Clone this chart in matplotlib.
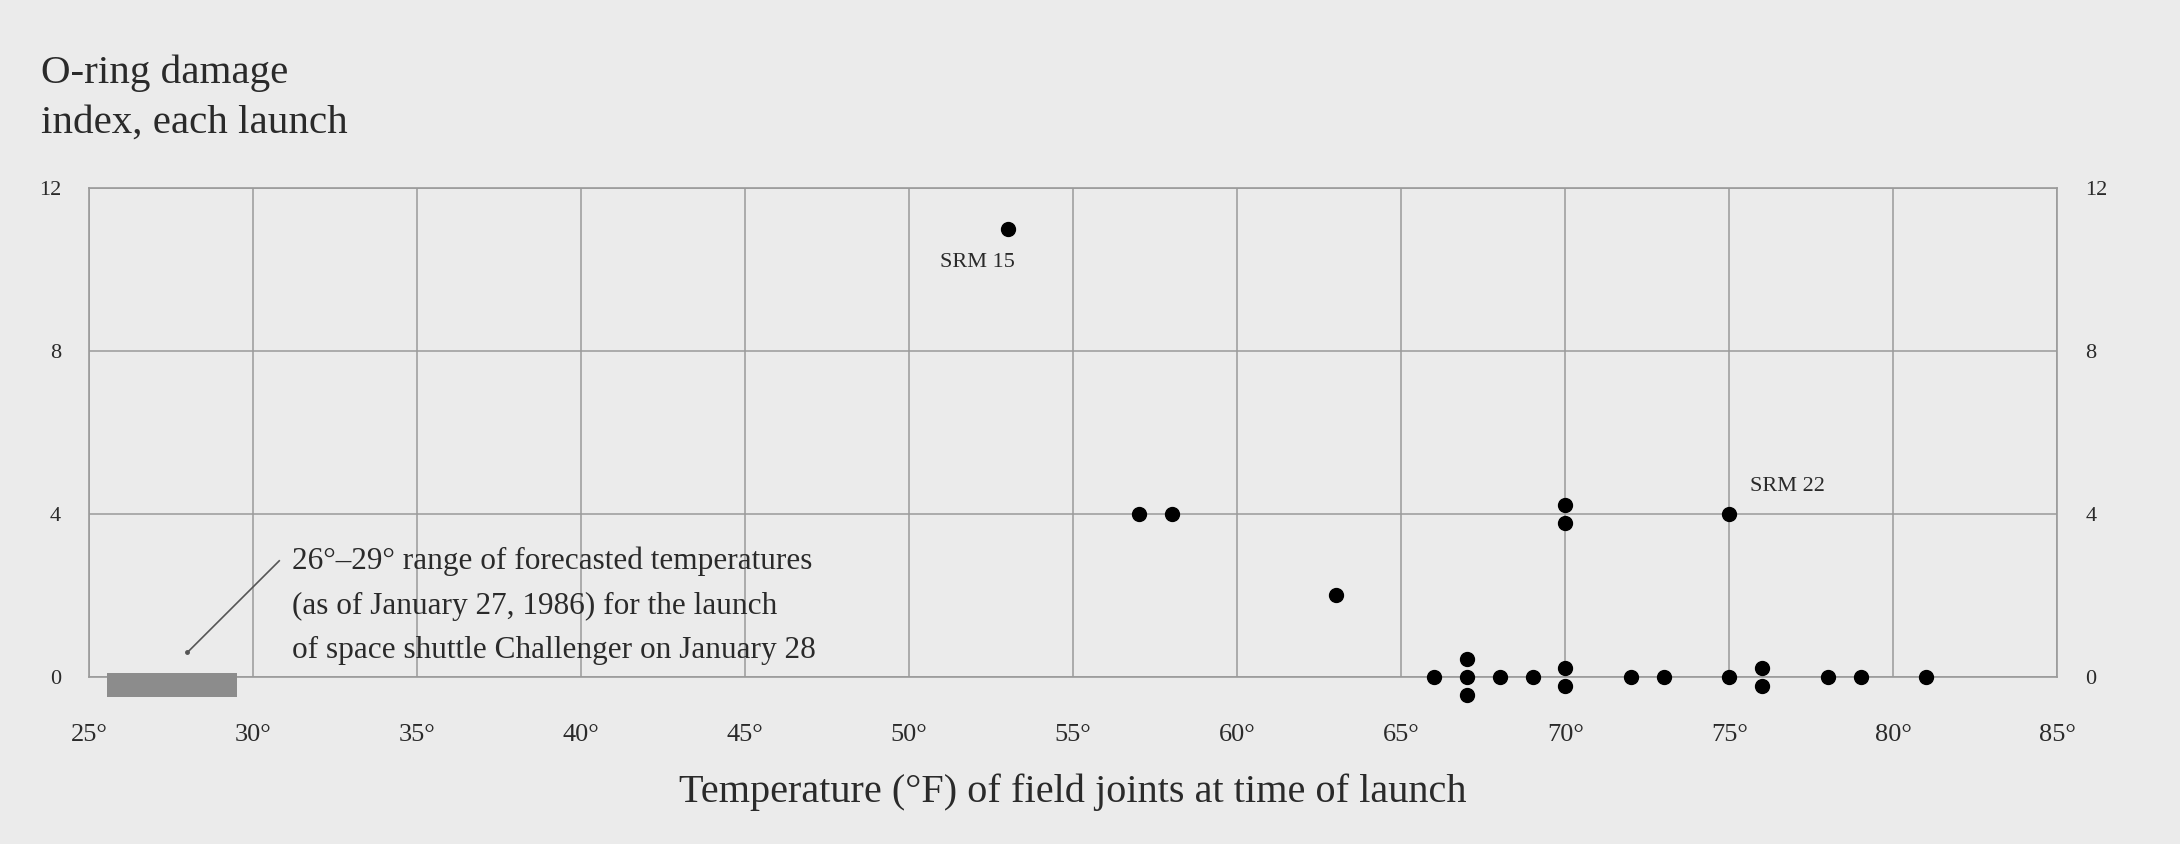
import matplotlib
matplotlib.use("Agg")
import matplotlib.pyplot as plt
from collections import defaultdict

# launches: joint temperature (F) and O-ring damage index
temps = [53, 57, 58, 63, 70, 70, 75,
         66, 67, 67, 67, 68, 69, 70, 70, 72, 73, 75, 76, 76, 78, 79, 81]
damage = [11, 4, 4, 2, 4, 4, 4,
          0, 0, 0, 0, 0, 0, 0, 0, 0, 0, 0, 0, 0, 0, 0, 0]

forecast_range = [26, 29]
x_ticks = [25, 30, 35, 40, 45, 50, 55, 60, 65, 70, 75, 80, 85]
y_ticks = [0, 4, 8, 12]

labels = {"SRM 15": (53, 11), "SRM 22": (75, 4)}

plt.rcParams['font.family'] = ['Liberation Serif', 'DejaVu Serif']
bg = '#ebebeb'
ink = '#2a2a2a'

fig = plt.figure(figsize=(21.8, 8.44), dpi=100, facecolor=bg)
ax = fig.add_axes([0.0408, 0.198, 0.903, 0.579])
ax.set_facecolor(bg)

# stack repeated readings vertically around their value
groups = defaultdict(list)
for t, d in zip(temps, damage):
    groups[(t, d)].append(t)
xs, ys = [], []
step = 0.45
for (t, d), items in groups.items():
    n = len(items)
    for i in range(n):
        xs.append(t)
        ys.append(d + (i - (n - 1) / 2) * step)

ax.plot(xs, ys, 'o', color='black', markersize=10, clip_on=False, zorder=5)

# forecast range bar
lo, hi = forecast_range
ax.fill_between([lo - 0.45, hi + 0.5], -0.5, 0.1, color='#8c8c8c', clip_on=False, zorder=4, linewidth=0)

ax.plot([28.0, 30.8], [0.6, 2.85], color='#555555', linewidth=1.2, clip_on=False)
ax.plot([28.0], [0.6], 'o', color='#555555', markersize=2.5)
ax.text(31.2, 3.2, "26°–29° range of forecasted temperatures\n(as of January 27, 1986) for the launch\nof space shuttle Challenger on January 28",
        fontsize=22.5, color=ink, va='top', ha='left', linespacing=1.7,
        transform=ax.transData)

ax.annotate("SRM 15", labels["SRM 15"], xytext=(-22, -24), textcoords='offset points',
            fontsize=16, color=ink, ha='center', va='center')
ax.annotate("SRM 22", labels["SRM 22"], xytext=(15, 20), textcoords='offset points',
            fontsize=16, color=ink, ha='left', va='center')

ax.set_xlim(25, 85)
ax.set_ylim(0, 12)
ax.set_xticks(x_ticks)
ax.set_xticklabels([f"{t}°" for t in x_ticks], fontsize=19, color=ink)
ax.set_yticks(y_ticks)
ax.set_yticklabels([str(v) for v in y_ticks], fontsize=16, color=ink)
ax.tick_params(axis='both', length=0)
ax.tick_params(axis='x', pad=34)
ax.tick_params(axis='y', pad=20, labelright=True, right=False)
ax.grid(True, color='#9a9a9a', linewidth=1.1)
ax.set_axisbelow(True)
for s in ax.spines.values():
    s.set_color('#9a9a9a')
    s.set_linewidth(1.2)

ax.set_xlabel("Temperature (°F) of field joints at time of launch", fontsize=29, color=ink, labelpad=20)

fig.text(0.019, 0.935, "O-ring damage\nindex, each launch", fontsize=29.5, color=ink,
         ha='left', va='top', linespacing=1.45)

fig.savefig("out.png", dpi=100, facecolor=bg)
